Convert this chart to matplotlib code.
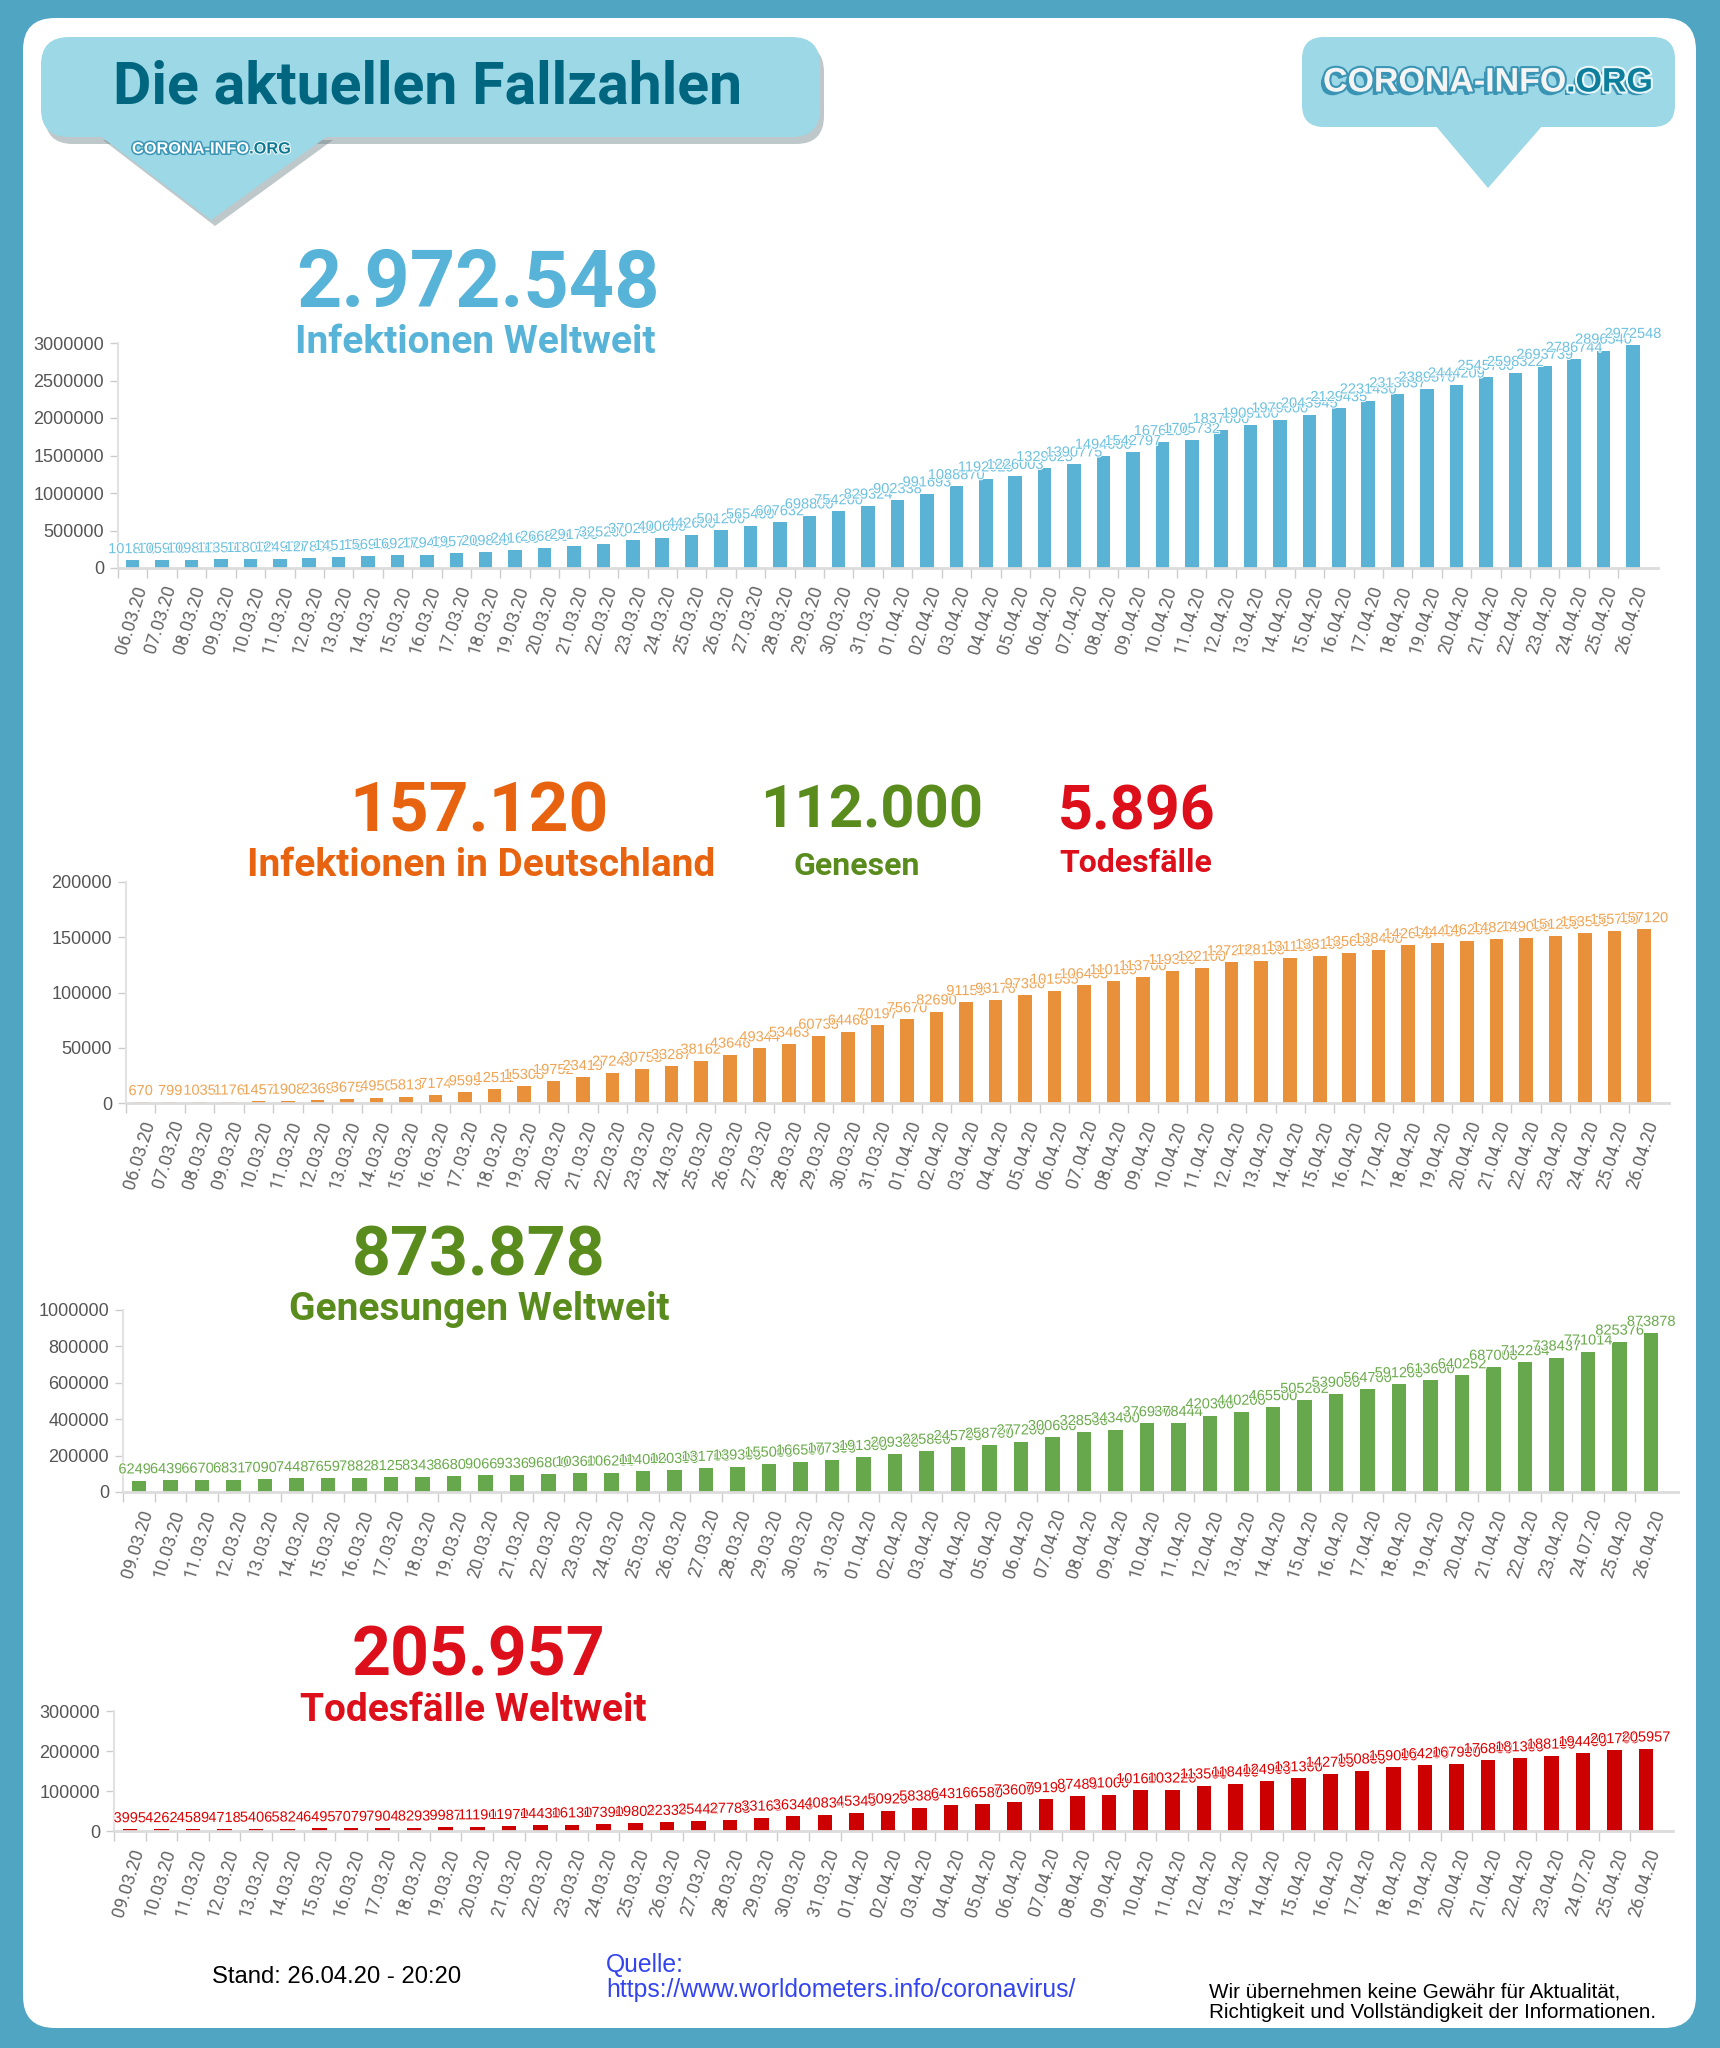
import matplotlib

matplotlib.use("Agg")
import matplotlib.pyplot as plt
import matplotlib.patheffects as pe
import numpy as np
from matplotlib.patches import FancyBboxPatch, Polygon
from matplotlib.ticker import StrMethodFormatter

W, H = 1720, 2048

# --- data -----------------------------------------------------------------
dates_world = (
    "06.03.20 07.03.20 08.03.20 09.03.20 10.03.20 11.03.20 12.03.20 13.03.20 "
    "14.03.20 15.03.20 16.03.20 17.03.20 18.03.20 19.03.20 20.03.20 21.03.20 "
    "22.03.20 23.03.20 24.03.20 25.03.20 26.03.20 27.03.20 28.03.20 29.03.20 "
    "30.03.20 31.03.20 01.04.20 02.04.20 03.04.20 04.04.20 05.04.20 06.04.20 "
    "07.04.20 08.04.20 09.04.20 10.04.20 11.04.20 12.04.20 13.04.20 14.04.20 "
    "15.04.20 16.04.20 17.04.20 18.04.20 19.04.20 20.04.20 21.04.20 22.04.20 "
    "23.04.20 24.04.20 25.04.20 26.04.20"
).split()

dates_short = (
    "09.03.20 10.03.20 11.03.20 12.03.20 13.03.20 14.03.20 15.03.20 16.03.20 "
    "17.03.20 18.03.20 19.03.20 20.03.20 21.03.20 22.03.20 23.03.20 24.03.20 "
    "25.03.20 26.03.20 27.03.20 28.03.20 29.03.20 30.03.20 31.03.20 01.04.20 "
    "02.04.20 03.04.20 04.04.20 05.04.20 06.04.20 07.04.20 08.04.20 09.04.20 "
    "10.04.20 11.04.20 12.04.20 13.04.20 14.04.20 15.04.20 16.04.20 17.04.20 "
    "18.04.20 19.04.20 20.04.20 21.04.20 22.04.20 23.04.20 24.07.20 25.04.20 "
    "26.04.20"
).split()

cases_world = [
    101800, 105900, 109800, 113500, 118000, 124900, 127800, 145100, 156900,
    169200, 179400, 195700, 209800, 241600, 266800, 291700, 325200, 370200,
    400600, 442600, 501200, 565400, 607632, 698800, 754200, 829324, 902338,
    991693, 1088870, 1192025, 1226003, 1329025, 1390775, 1494000, 1542797,
    1676100, 1705732, 1837000, 1909100, 1979000, 2043945, 2129435, 2231430,
    2313637, 2389570, 2444209, 2545760, 2598322, 2693739, 2786744, 2896540,
    2972548,
]

cases_de = [
    670, 799, 1035, 1176, 1457, 1908, 2369, 3675, 4950, 5813, 7174, 9595,
    12511, 15308, 19752, 23419, 27243, 30753, 33287, 38162, 43646, 49344,
    53463, 60735, 64468, 70197, 75670, 82690, 91159, 93176, 97380, 101535,
    106405, 110109, 113700, 119300, 122100, 127200, 128100, 131100, 133100,
    135600, 138400, 142600, 144400, 146200, 148200, 149000, 151200, 153500,
    155700, 157120,
]

recovered_world = [
    62496, 64396, 66700, 68317, 70907, 74487, 76597, 78828, 81258, 83438,
    86809, 90669, 93369, 96800, 103600, 106200, 114000, 120300, 131700,
    139300, 155000, 166500, 177300, 191300, 209300, 225800, 245700, 258700,
    277200, 300600, 328500, 343400, 376900, 378444, 420300, 440200, 465500,
    505282, 539000, 564700, 591200, 613600, 640252, 687000, 712234, 738437,
    771014, 825376, 873878,
]

deaths_world = [
    3995, 4262, 4589, 4718, 5406, 5824, 6495, 7079, 7904, 8293, 9987, 11190,
    11970, 14430, 16130, 17390, 19802, 22333, 25442, 27783, 33163, 36340,
    40834, 45340, 50920, 58380, 64310, 66580, 73600, 79190, 87480, 91000,
    101600, 103220, 113500, 118400, 124900, 131300, 142700, 150800, 159000,
    164200, 167900, 176800, 181300, 188100, 194400, 201700, 205957,
]

recovered_de = 112000
deaths_de = 5896

# --- styling ----------------------------------------------------------------
HEAD = "Roboto"
BODY = "Liberation Sans"

TEAL_BG = "#4fa5c2"
BUBBLE = "#9cd8e6"
BLUE = "#57b3d7"
ORANGE = "#e8630f"
GREEN = "#5a8b1d"
RED = "#dc0f1b"


def de_num(v):
    return f"{v:,}".replace(",", ".")


def bar_panel(fig, box, dates, values, ymax, ystep, bar_color, label_color):
    x0, x1, ytop, ybot = box
    ax = fig.add_axes([x0 / W, 1 - ybot / H, (x1 - x0) / W, (ybot - ytop) / H])
    ax.patch.set_visible(False)
    pos = np.arange(len(values))
    bars = ax.bar(pos, values, width=0.46, color=bar_color, zorder=2)
    # white halo so that each label hides the tail of its left neighbour
    ax.bar_label(bars, labels=[str(v) for v in values], padding=3,
                 fontsize=10.5, color=label_color, family=BODY,
                 path_effects=[pe.withStroke(linewidth=1.4, foreground="white")])
    ax.set_xlim(-0.5, len(values) - 0.15)
    ax.set_ylim(0, ymax)
    ax.set_yticks(np.arange(0, ymax + 1, ystep))
    ax.yaxis.set_major_formatter(StrMethodFormatter("{x:.0f}"))
    ax.tick_params(axis="y", length=6, width=1, color="#cccccc", labelsize=13,
                   labelcolor="#555555", pad=4)
    for lab in ax.get_yticklabels():
        lab.set_family(BODY)
    ax.set_xticks(pos)
    ax.set_xticklabels(dates, rotation=73, ha="right", va="top",
                       rotation_mode="anchor", fontsize=13, color="#666666",
                       family=HEAD)
    ax.set_xticks(pos - 0.5, minor=True)
    ax.tick_params(axis="x", which="major", length=0, pad=11)
    ax.tick_params(axis="x", which="minor", length=7, width=1, color="#cccccc")
    ax.spines["top"].set_visible(False)
    ax.spines["right"].set_visible(False)
    ax.spines["left"].set_color("#e2e2e2")
    ax.spines["bottom"].set_color("#dcdcdc")
    ax.spines["left"].set_linewidth(1.5)
    ax.spines["bottom"].set_linewidth(2)
    return ax


fig = plt.figure(figsize=(W / 100, H / 100), dpi=100, facecolor=TEAL_BG)
renderer = fig.canvas.get_renderer()
bg = fig.add_axes([0, 0, 1, 1])
bg.set_xlim(0, W)
bg.set_ylim(H, 0)
bg.axis("off")


def text_w(t):
    return t.get_window_extent(renderer=renderer).width


def fit(t, width):
    # scale the font so the text spans the measured width of the reference
    t.set_fontsize(t.get_fontsize() * width / text_w(t))
    return t


def logo(x_left, y, width, size, fill, org_fill, stroke, org_stroke, shadow=None):
    fx = [pe.withStroke(linewidth=stroke[1], foreground=stroke[0])]
    fx_org = [pe.withStroke(linewidth=org_stroke[1], foreground=org_stroke[0])]
    if shadow:
        sh = pe.withSimplePatchShadow(offset=(-2.5, -2.5), shadow_rgbFace=shadow, alpha=1)
        fx, fx_org = [sh] + fx, [sh] + fx_org
    a = bg.text(x_left, y, "CORONA-INFO", fontsize=size, weight="bold", color=fill,
                ha="left", va="center", family=BODY, path_effects=fx)
    b = bg.text(x_left, y, ".ORG", fontsize=size, weight="bold", color=org_fill,
                ha="left", va="center", family=BODY, path_effects=fx_org)
    k = width / (text_w(a) + text_w(b))
    a.set_fontsize(size * k)
    b.set_fontsize(size * k)
    b.set_x(x_left + text_w(a))


# white card
bg.add_patch(FancyBboxPatch((23, 18), 1673, 2010,
                            boxstyle="round,pad=0,rounding_size=32",
                            fc="white", ec="none"))

# header bubble (left) with shadow
shadow = dict(fc="#6f8488", ec="none", alpha=0.45)
bg.add_patch(FancyBboxPatch((45, 44), 779, 100,
                            boxstyle="round,pad=0,rounding_size=28", **shadow))
bg.add_patch(Polygon([(103, 140), (333, 140), (215, 226)], closed=True, **shadow))
bg.add_patch(FancyBboxPatch((41, 37), 779, 100,
                            boxstyle="round,pad=0,rounding_size=28",
                            fc=BUBBLE, ec="none"))
bg.add_patch(Polygon([(99, 135), (329, 135), (211, 220)], closed=True,
                     fc=BUBBLE, ec="none"))
fit(bg.text(428, 88, "Die aktuellen Fallzahlen", fontsize=40, weight="bold",
            color="#00667f", ha="center", va="center", family=HEAD), 630)
logo(132, 149, 159, 14, "white", "#0d7893", ("#3b95b5", 2.2), ("white", 1.4))

# header bubble (right)
bg.add_patch(FancyBboxPatch((1302, 37), 373, 90,
                            boxstyle="round,pad=0,rounding_size=22",
                            fc=BUBBLE, ec="none"))
bg.add_patch(Polygon([(1435, 125), (1543, 125), (1488, 188)], closed=True,
                     fc=BUBBLE, ec="none"))
logo(1323, 83, 330, 28, "#f4f4f4", "#0d7f9c", ("#3b95b5", 3), ("#e8f6fa", 3),
     shadow="#3a93b4")


# headline numbers
def head(x, y, s, size, color):
    bg.text(x, y, s, fontsize=size, weight="bold", color=color,
            ha="center", va="baseline", family=HEAD)


head(478, 307, de_num(cases_world[-1]), 57, BLUE)
head(475, 353, "Infektionen Weltweit", 28, BLUE)
head(479, 831, de_num(cases_de[-1]), 50, ORANGE)
head(481, 876, "Infektionen in Deutschland", 28, ORANGE)
head(872, 828, de_num(recovered_de), 43, GREEN)
head(857, 875, "Genesen", 23, GREEN)
head(1137, 829, de_num(deaths_de), 44, RED)
head(1136, 872, "Todesfälle", 23, RED)
head(479, 1275, de_num(recovered_world[-1]), 49, GREEN)
head(479, 1320, "Genesungen Weltweit", 28, GREEN)
head(479, 1676, de_num(deaths_world[-1]), 49, RED)
head(473, 1721, "Todesfälle Weltweit", 28, RED)

# bar charts (pixel boxes: x-left, x-right, y-top, y-zero)
bar_panel(fig, (118, 1658, 343, 568), dates_world, cases_world,
          3000000, 500000, "#5ab2d5", "#6cc1e0")
bar_panel(fig, (126, 1669, 882, 1103), dates_world, cases_de,
          200000, 50000, "#e8913a", "#f0a352")
bar_panel(fig, (123, 1678, 1310, 1492), dates_short, recovered_world,
          1000000, 200000, "#67a84c", "#6aaa4b")
bar_panel(fig, (114, 1673, 1711, 1831), dates_short, deaths_world,
          300000, 100000, "#cc0000", "#dd0000")

# footer
fit(bg.text(337, 1983, "Stand: 26.04.20 - 20:20", fontsize=15, color="black",
            ha="center", va="baseline", family=BODY), 250)
src = [bg.text(606, 1972, "Quelle:", fontsize=15, color="#3344ee",
               ha="left", va="baseline", family=BODY),
       bg.text(606, 1997, "https://www.worldometers.info/coronavirus/", fontsize=15,
               color="#3344ee", ha="left", va="baseline", family=BODY)]
fit(src[1], 472)
src[0].set_fontsize(src[1].get_fontsize())
note = [bg.text(1209, 1998, "Wir übernehmen keine Gewähr für Aktualität,", fontsize=12.5,
                color="black", ha="left", va="baseline", family=BODY),
        bg.text(1209, 2018, "Richtigkeit und Vollständigkeit der Informationen.",
                fontsize=12.5, color="black", ha="left", va="baseline", family=BODY)]
fit(note[1], 448)
note[0].set_fontsize(note[1].get_fontsize())

fig.savefig("out.png", dpi=100, facecolor=TEAL_BG)
plt.close(fig)
